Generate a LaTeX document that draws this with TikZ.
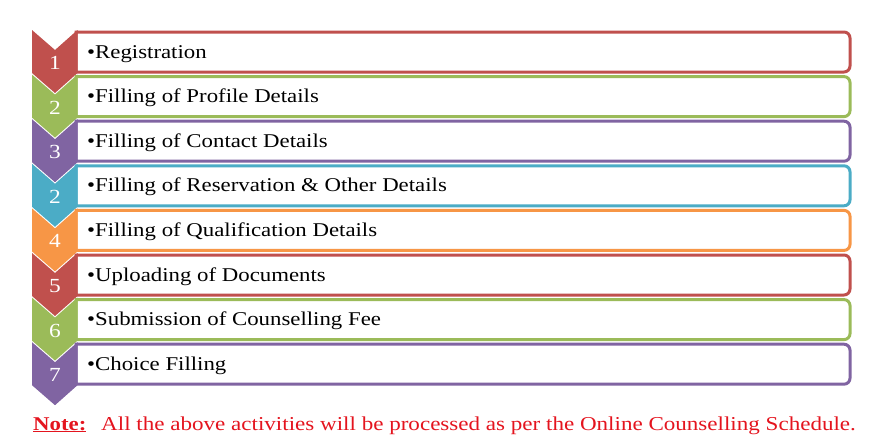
\documentclass[tikz,border=0pt]{standalone}
\usepackage{fontspec}
\setmainfont{Liberation Serif}[FakeStretch=1.17]
\definecolor{cred}{HTML}{C0504D}
\definecolor{cgreen}{HTML}{9BBB59}
\definecolor{cpurple}{HTML}{8064A2}
\definecolor{caqua}{HTML}{4BACC6}
\definecolor{corange}{HTML}{F79646}
\definecolor{notered}{RGB}{228,20,30}
\tikzset{
  bar/.style={draw=#1, line width=3pt, fill=white},
  chev/.style={fill=#1, draw=none},
  numtxt/.style={text=white, font=\fontsize{20}{20}\selectfont, inner sep=0pt},
  itemtxt/.style={anchor=base west, inner sep=0pt, font=\fontsize{19.5}{20}\selectfont},
}
\begin{document}
\begin{tikzpicture}[x=1pt,y=-1pt]
\useasboundingbox (0,0) rectangle (885,447);
\foreach \k/\c/\n/\t in {0/cred/1/Registration,
  1/cgreen/2/Filling of Profile Details,
  2/cpurple/3/Filling of Contact Details,
  3/caqua/2/Filling of Reservation \& Other Details,
  4/corange/4/Filling of Qualification Details,
  5/cred/5/Uploading of Documents,
  6/cgreen/6/Submission of Counselling Fee,
  7/cpurple/7/Choice Filling}{
  \pgfmathsetmacro{\T}{30+44.6*\k}
  \pgfmathsetmacro{\B}{32+44.6*\k}
  \draw[bar=\c] (76,\B) [rounded corners=0pt] -- (780,\B) [rounded corners=6pt] -- (850,\B) -- (850,\B+40) [rounded corners=0pt] -- (780,\B+40) -- (76,\B+40) -- cycle;
  \fill[chev=\c] (32,\T) -- (55,\T+20) -- (77.5,\T) -- (77.5,\T+43) -- (55,\T+63) -- (32,\T+43) -- cycle;
  \node[numtxt] (n\k) at (55,\T+33) {\n};
  \node[itemtxt] (t\k) at (87,\B+26) {\textbullet\t};
}
\node[anchor=base west, inner sep=0pt, text=notered, font=\fontsize{19.5}{20}\selectfont\bfseries] (note) at (33,430) {\underline{Note:}};
\node[anchor=base west, inner sep=0pt, text=notered, font=\fontsize{19.7}{20}\selectfont] (notetxt) at (101,430) {All the above activities will be processed as per the Online Counselling Schedule.};
\end{tikzpicture}
\end{document}
